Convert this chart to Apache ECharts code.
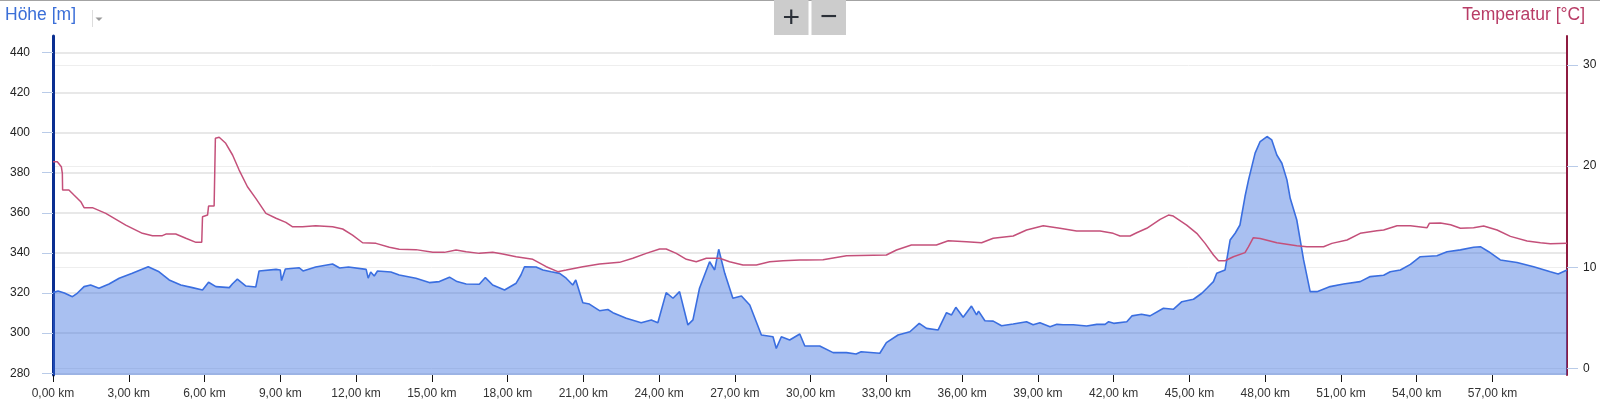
<!DOCTYPE html>
<html>
<head>
<meta charset="utf-8">
<script src="https://cdn.jsdelivr.net/npm/echarts@6.0.0/dist/echarts.min.js"></script>
<style>
html,body{margin:0;padding:0;background:#fff;}
#chart{width:1600px;height:405px;}
</style>
</head>
<body>
<div id="chart"></div>
<script>
// ---- data ----
const elevKm = [0,0.2,0.45,0.77,0.97,1.23,1.49,1.82,2.22,2.62,3.14,3.77,4.2,4.6,5.06,5.52,5.92,6.16,6.45,6.98,7.1,7.3,7.64,8.03,8.16,8.83,9.0,9.05,9.2,9.75,9.9,10.4,11.07,11.35,11.7,12.4,12.48,12.58,12.72,12.85,13.38,13.71,14.37,14.9,15.3,15.7,16.0,16.36,16.88,17.12,17.41,17.88,18.34,18.53,18.67,19.13,19.4,19.73,20.06,20.32,20.58,20.7,20.98,21.24,21.64,21.97,22.17,22.7,23.29,23.69,23.95,24.28,24.55,24.81,25.14,25.34,25.6,26.0,26.2,26.36,26.6,26.92,27.26,27.59,28.05,28.51,28.64,28.84,29.17,29.57,29.77,30.36,30.89,31.42,31.8,32.0,32.74,33.0,33.46,33.93,34.3,34.59,35.05,35.38,35.58,35.75,36.04,36.37,36.57,36.65,36.9,37.23,37.56,38.02,38.55,38.81,39.08,39.48,39.75,40.0,40.4,40.93,41.33,41.66,41.8,42.0,42.52,42.72,43.1,43.44,43.97,44.36,44.7,45.16,45.49,45.69,45.95,46.08,46.41,46.61,46.81,47.0,47.2,47.34,47.6,47.8,48.07,48.26,48.46,48.66,48.86,48.99,49.25,49.52,49.78,50.05,50.57,51.1,51.76,52.16,52.69,52.95,53.35,53.75,54.14,54.8,55.2,55.73,56.25,56.52,56.85,57.31,57.97,58.63,59.29,59.6,59.95];
const elevM = [320.2,321,320,318.2,320,323.2,324,322.4,324.5,327.4,329.9,333.1,330.6,326.5,324,322.7,321.5,325.4,323.2,322.7,324.5,326.9,323.5,323,331,331.8,331.5,326.2,332,332.6,331,333,334.5,332.5,333,331.8,327.4,330.5,328.5,331,330.5,329,327.4,325.2,325.7,327.9,325.7,324.5,324.4,327.7,324,321.5,324.9,329,333.1,333,331.5,330.6,329.8,327.4,324,326.5,315.2,314.5,311.2,311.8,310.2,307.4,305.2,306.6,305.2,320.2,317.4,320.7,304.1,306.6,322.4,335.6,331.5,341.8,329.8,317.4,318.5,314,299.1,298.2,292.4,298.2,296.6,299.6,293.6,293.6,290.3,290.3,289.6,290.7,290,295.3,299.1,300.7,304.9,302.4,301.6,310.2,309.1,312.9,307.9,313.5,309.1,311,306.2,306,303.7,304.6,305.7,304.2,305.2,303.2,304.4,304.2,304.2,303.6,304.4,304.4,305.7,304.9,305.7,308.6,309.4,308.6,312.4,311.9,315.7,316.9,319.9,322.4,325.7,329.9,331.5,346.4,349.8,353.9,368.1,376.4,389.7,395.5,398,396.3,388.8,384.7,376.4,367.2,356.4,336.5,320.7,320.7,323.2,324.5,325.7,328.2,328.9,330.6,331.5,334.3,338.1,338.6,340.6,341.5,342.8,343.1,340.6,336.5,335.2,333.1,330.6,329.5,331.5];

const tempKm = [0,0.17,0.33,0.37,0.38,0.63,0.83,1.1,1.23,1.56,2.09,2.88,3.54,3.94,4.33,4.47,4.86,5.26,5.66,5.89,5.92,6.12,6.16,6.38,6.43,6.58,6.84,7.11,7.37,7.7,8.03,8.43,8.83,9.22,9.49,9.88,10.4,11.07,11.47,11.86,12.26,12.79,13.32,13.71,14.37,15.04,15.5,15.96,16.36,16.88,17.41,17.81,18.34,19.0,19.53,19.99,20.32,20.98,21.64,22.43,22.96,23.49,24.02,24.28,24.68,25.08,25.47,25.87,26.4,26.79,27.32,27.85,28.38,28.91,29.57,29.83,30.49,31.42,33.0,33.4,33.99,34.98,35.45,36.17,36.77,37.23,38.02,38.55,39.21,39.87,40.53,41.46,41.98,42.25,42.65,42.91,43.31,43.84,44.17,44.36,44.89,45.29,45.62,45.95,46.15,46.41,46.74,47.2,47.34,47.53,47.8,48.46,49.25,49.65,50.31,50.64,51.24,51.76,52.42,52.69,53.22,53.75,54.41,54.5,54.94,55.34,55.73,56.25,56.65,57.18,57.71,58.37,58.9,59.29,59.95];
const tempC = [20.43,20.43,19.94,19.29,17.64,17.64,17.14,16.48,15.89,15.89,15.33,14.17,13.35,13.12,13.12,13.28,13.28,12.86,12.46,12.46,15.0,15.16,16.05,16.05,22.75,22.85,22.26,21.1,19.61,17.96,16.81,15.33,14.84,14.44,14.0,14.0,14.1,14.0,13.78,13.18,12.42,12.36,11.97,11.77,11.74,11.47,11.47,11.7,11.54,11.37,11.47,11.31,11.04,10.78,10.05,9.56,9.72,10.05,10.32,10.48,10.88,11.37,11.8,11.8,11.37,10.78,10.54,10.88,10.88,10.54,10.22,10.22,10.54,10.64,10.71,10.71,10.74,11.14,11.21,11.7,12.2,12.2,12.62,12.52,12.42,12.86,13.09,13.68,14.1,13.85,13.58,13.58,13.35,13.09,13.09,13.41,13.85,14.74,15.16,15.06,14.17,13.35,12.36,11.21,10.64,10.64,11.04,11.44,12.03,12.92,12.85,12.42,12.13,12.03,12.03,12.36,12.69,13.35,13.61,13.68,14.1,14.1,13.91,14.34,14.37,14.2,13.85,13.91,14.07,13.68,13.05,12.6,12.42,12.33,12.36];

const xTicks = [0,3,6,9,12,15,18,21,24,27,30,33,36,39,42,45,48,51,54,57];
const elevTicks = [280,300,320,340,360,380,400,420,440];
const tempTicks = [0,10,20,30];
const elevTitle = 'Höhe [m]';
const tempTitle = 'Temperatur [°C]';

// ---- chart ----
const FONT = '"Liberation Sans", Arial, sans-serif';
const chart = echarts.init(document.getElementById('chart'), null, {renderer: 'canvas'});
const elevData = elevKm.map((k, i) => [k, elevM[i]]);
const tempData = tempKm.map((k, i) => [k, tempC[i]]);

chart.setOption({
  animation: false,
  backgroundColor: '#ffffff',
  textStyle: {fontFamily: FONT},
  grid: {left: 53, right: 33, top: 36, bottom: 30, containLabel: false},
  xAxis: {
    type: 'value', min: 0, max: 59.95,
    axisLine: {show: true, onZero: false, lineStyle: {color: 'rgba(0,0,0,0)', width: 1}},
    axisTick: {show: true, customValues: xTicks, length: 7, lineStyle: {color: '#111', width: 1}},
    axisLabel: {
      customValues: xTicks, margin: 13, fontSize: 12, color: '#333', fontFamily: FONT,
      formatter: v => v.toFixed(2).replace('.', ',') + ' km'
    },
    splitLine: {show: false}
  },
  yAxis: [
    {
      type: 'value', position: 'left', min: 279.15, max: 448.1,
      axisLine: {show: true, lineStyle: {color: '#0b2f91', width: 3}},
      axisTick: {show: true, customValues: elevTicks, length: 11, lineStyle: {color: '#b9cbe8', width: 1}},
      axisLabel: {customValues: elevTicks, margin: 23, fontSize: 12, color: '#222', fontFamily: FONT},
      splitLine: {show: true, lineStyle: {color: '#e0e0e0', width: 1.5}}
    },
    {
      type: 'value', position: 'right', min: -0.66, max: 32.87,
      axisLine: {show: true, lineStyle: {color: '#8e1b40', width: 2}},
      axisTick: {show: true, customValues: tempTicks, length: 11, lineStyle: {color: '#b9cbe8', width: 1}},
      axisLabel: {customValues: tempTicks, margin: 16, fontSize: 12, color: '#222', fontFamily: FONT},
      splitLine: {show: true, lineStyle: {color: '#eeeeee', width: 1}}
    }
  ],
  series: [
    {
      name: elevTitle, type: 'line', yAxisIndex: 0, data: elevData,
      showSymbol: false, smooth: false, z: 2,
      lineStyle: {color: '#3a6ee0', width: 1.6},
      areaStyle: {color: 'rgba(56,108,222,0.43)', opacity: 1, origin: 'start'}
    },
    {
      name: tempTitle, type: 'line', yAxisIndex: 1, data: tempData,
      showSymbol: false, smooth: false, z: 3,
      lineStyle: {color: '#c4507a', width: 1.5}
    }
  ],
  graphic: [
    {type: 'rect', shape: {x: 0, y: 0, width: 1600, height: 1}, style: {fill: '#a3a3a3'}, silent: true},
    {type: 'text', left: 5, top: 6, style: {text: elevTitle, fill: '#3b6fd8', font: '17.5px ' + FONT}},
    {type: 'rect', shape: {x: 92, y: 10, width: 1, height: 17}, style: {fill: '#dddddd'}},
    {type: 'polygon', shape: {points: [[95.5, 17.5], [102.5, 17.5], [99, 21]]}, style: {fill: '#9a9a9a'}},
    {type: 'text', right: 15, top: 6, style: {text: tempTitle, fill: '#b83c66', font: '17.5px ' + FONT}},
    {type: 'rect', shape: {x: 774, y: 0, width: 34.5, height: 35}, style: {fill: '#cccccc'}},
    {type: 'rect', shape: {x: 811.5, y: 0, width: 34.5, height: 35}, style: {fill: '#cccccc'}},
    {type: 'text', x: 791.3, y: 18.5, style: {text: '+', fill: '#2b3038', font: '30px ' + FONT, align: 'center', verticalAlign: 'middle'}},
    {type: 'text', x: 828.7, y: 17.5, style: {text: '−', fill: '#2b3038', font: '30px ' + FONT, align: 'center', verticalAlign: 'middle'}}
  ]
});
</script>
</body>
</html>
